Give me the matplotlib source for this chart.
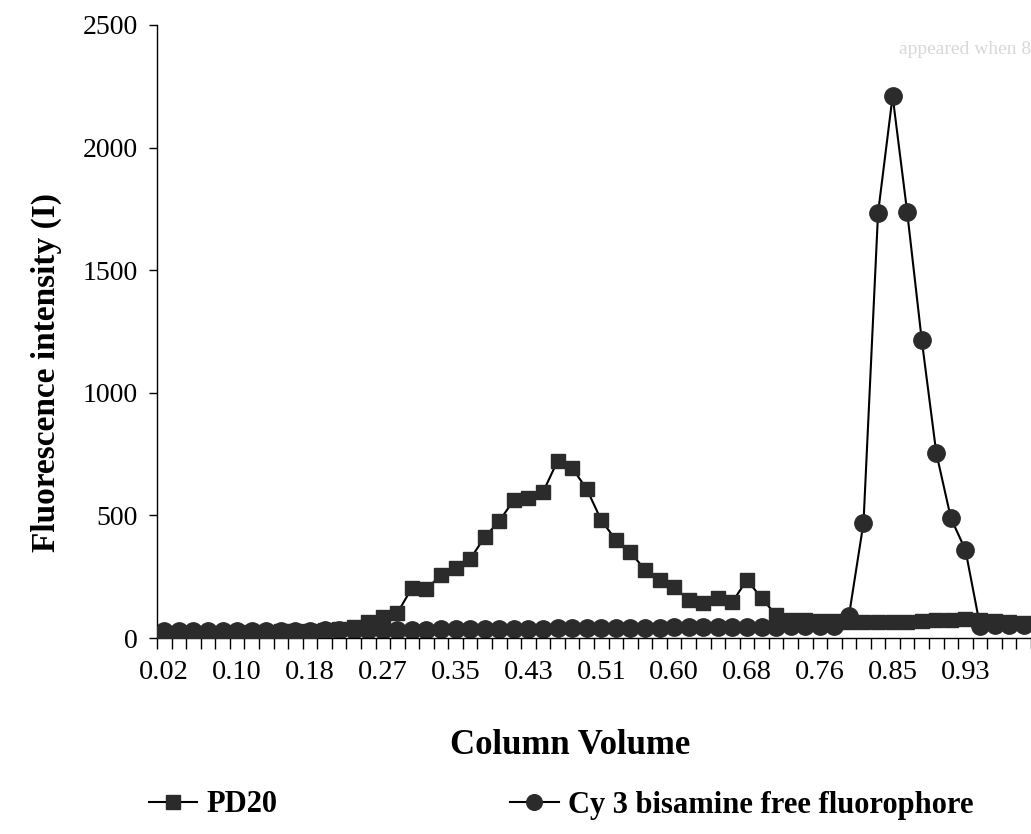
import matplotlib
matplotlib.use("Agg")
import matplotlib.pyplot as plt
import numpy as np

# ---- data (category axis, 60 fractions) ----
tick_labels = ["0.02", "0.10", "0.18", "0.27", "0.35", "0.43",
               "0.51", "0.60", "0.68", "0.76", "0.85", "0.93"]
label_every = 5

pd20 = [20, 20, 21, 22, 22, 23, 24, 25, 27, 28,
        30, 33, 38, 45, 65, 86, 102, 204, 200, 257,
        285, 322, 412, 477, 563, 571, 595, 722, 693, 608,
        480, 400, 351, 277, 237, 208, 155, 143, 163, 147,
        237, 163, 94, 75, 72, 70, 68, 66, 65, 64,
        65, 67, 70, 72, 74, 76, 75, 70, 66, 63]

cy3 = [27, 27, 27, 28, 28, 28, 29, 29, 29, 30,
       30, 31, 31, 32, 32, 33, 33, 34, 34, 35,
       35, 36, 36, 37, 37, 38, 38, 39, 39, 40,
       40, 41, 41, 42, 42, 43, 43, 44, 44, 45,
       45, 46, 46, 47, 48, 49, 50, 90, 469, 1733,
       2210, 1737, 1215, 754, 489, 359, 50, 52, 55, 55]

series_names = ["PD20", "Cy 3 bisamine free fluorophore"]

plt.rcParams['font.family'] = ['Liberation Serif', 'DejaVu Serif']

W, H = 1031, 834
fig = plt.figure(figsize=(W / 100, H / 100), dpi=100)
ax = fig.add_axes([157 / W, 1 - 638 / H, 1 - 157 / W, (638 - 25) / H])

x = np.arange(len(pd20))
mk_col = '#2b2b2b'
l1, = ax.plot(x, pd20, color='black', lw=1.5, marker='s', ms=10.5,
              mfc=mk_col, mec=mk_col, zorder=3)
l2, = ax.plot(x, cy3, color='black', lw=1.5, marker='o', ms=12.5,
              mfc=mk_col, mec=mk_col, zorder=2)

n_vis = (W - 157) / 14.64
ax.set_xlim(-0.5, -0.5 + n_vis)
ax.set_ylim(0, 2500)

for s in ['top', 'right']:
    ax.spines[s].set_visible(False)
for s in ['left', 'bottom']:
    ax.spines[s].set_linewidth(1.0)
    ax.spines[s].set_color('black')

ax.set_yticks([0, 500, 1000, 1500, 2000, 2500])
ax.tick_params(axis='y', direction='out', length=6, width=1, labelsize=20, pad=8)

# tick marks between categories, labels centred on categories
ax.set_xticks(np.arange(len(pd20) + 1) - 0.5)
ax.set_xticklabels([])
ax.tick_params(axis='x', which='major', direction='out', length=8, width=1)
ax.set_xticks(np.arange(len(tick_labels)) * label_every, minor=True)
ax.set_xticklabels(tick_labels, minor=True)
ax.tick_params(axis='x', which='minor', length=0, labelsize=20.5, pad=16)

ax.set_ylabel("Fluorescence intensity (I)", fontsize=24, fontweight='bold')
ax.yaxis.set_label_coords(-(157 - 62) / (W - 157), (638 - 372) / (638 - 25))
fig.text(570 / W, 1 - 746 / H, "Column Volume", fontsize=25, fontweight='bold',
         ha='center', va='center')

fig.legend([l1, l2], series_names, loc='center left',
           bbox_to_anchor=(121 / W, 1 - 805 / H), ncol=2, frameon=False,
           prop={'size': 22, 'weight': 'bold'}, handlelength=1.6,
           columnspacing=7.6, handletextpad=0.3, markerscale=0.9)

fig.text(1.0, 1 - 50 / H, "appeared when 8", fontsize=14, color='#d8d8d8',
         ha='right', va='center')

fig.savefig("out.png", dpi=100)
